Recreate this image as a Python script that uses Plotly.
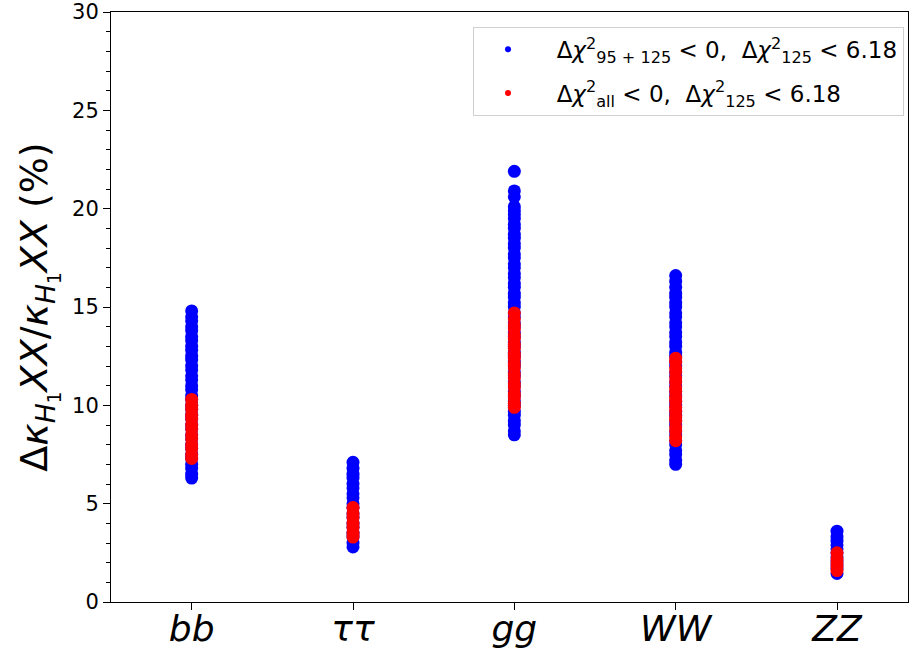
import plotly.graph_objects as go

# Channels on the x axis
channels = ["bb", "ττ", "gg", "WW", "ZZ"]
channel_labels = ["<i>bb</i>", "<i>ττ</i>", "<i>gg</i>", "<i>WW</i>", "<i>ZZ</i>"]

# Points passing Δχ²(95+125) < 0, Δχ²(125) < 6.18  (blue)
bb_blue = [6.3, 6.5, 6.8, 7.0, 7.3, 7.5, 7.8, 8.0, 8.3, 8.5, 8.8, 9.0, 9.3, 9.5,
           9.8, 10.0, 10.3, 10.5, 10.8, 11.0, 11.3, 11.5, 11.8, 12.0, 12.3, 12.5,
           12.8, 13.0, 13.3, 13.5, 13.8, 14.0, 14.3, 14.5, 14.8]
tt_blue = [2.8, 3.0, 3.3, 3.5, 3.8, 4.0, 4.3, 4.5, 4.8, 5.0, 5.3, 5.5, 5.8, 6.0,
           6.3, 6.5, 6.8, 7.1]
gg_blue = [8.5, 8.7, 9.0, 9.2, 9.5, 9.7, 10.0, 10.2, 10.5, 10.7, 11.0, 11.2, 11.5,
           11.7, 12.0, 12.2, 12.5, 12.7, 13.0, 13.2, 13.5, 13.7, 14.0, 14.2, 14.5,
           14.7, 15.0, 15.2, 15.5, 15.7, 16.0, 16.2, 16.5, 16.7, 17.0, 17.2, 17.5,
           17.7, 18.0, 18.2, 18.5, 18.7, 19.0, 19.2, 19.5, 19.7, 19.9, 20.1, 20.6,
           20.9, 21.9]
ww_blue = [7.0, 7.2, 7.5, 7.7, 8.0, 8.2, 8.5, 8.7, 9.0, 9.2, 9.5, 9.7, 10.0, 10.2,
           10.5, 10.7, 11.0, 11.2, 11.5, 11.7, 12.0, 12.2, 12.5, 12.7, 13.0, 13.2,
           13.5, 13.7, 14.0, 14.2, 14.5, 14.7, 15.0, 15.2, 15.5, 15.7, 16.0, 16.3,
           16.6]
zz_blue = [1.45, 1.7, 1.9, 2.1, 2.3, 2.5, 2.7, 2.9, 3.1, 3.3, 3.6]

# Points passing Δχ²(all) < 0, Δχ²(125) < 6.18  (red)
bb_red = [7.3, 7.5, 7.8, 8.0, 8.3, 8.5, 8.8, 9.0, 9.3, 9.5, 9.8, 10.0, 10.3]
tt_red = [3.3, 3.5, 3.8, 4.0, 4.3, 4.5, 4.8]
gg_red = [9.9, 10.1, 10.4, 10.6, 10.9, 11.1, 11.4, 11.6, 11.9, 12.1, 12.4, 12.6,
          12.9, 13.1, 13.4, 13.6, 13.9, 14.1, 14.4, 14.7]
ww_red = [8.2, 8.4, 8.7, 8.9, 9.2, 9.4, 9.7, 9.9, 10.2, 10.4, 10.7, 10.9, 11.2,
          11.4, 11.7, 11.9, 12.2, 12.4]
zz_red = [1.6, 1.8, 2.0, 2.2, 2.5]

blue_sets = [bb_blue, tt_blue, gg_blue, ww_blue, zz_blue]
red_sets = [bb_red, tt_red, gg_red, ww_red, zz_red]

PAD = "\u00a0\u00a0"
legend_blue = PAD + "Δ<i>χ</i><sup>2</sup><sub>95 + 125</sub> < 0,  Δ<i>χ</i><sup>2</sup><sub>125</sub> < 6.18"
legend_red = PAD + "Δ<i>χ</i><sup>2</sup><sub>all</sub> < 0,  Δ<i>χ</i><sup>2</sup><sub>125</sub> < 6.18"

FONT = "DejaVu Sans"
MS = 13


def flatten(sets):
    xs, ys = [], []
    for ch, vals in zip(channels, sets):
        xs += [ch] * len(vals)
        ys += vals
    return xs, ys


fig = go.Figure()
bx, by = flatten(blue_sets)
rx, ry = flatten(red_sets)
fig.add_trace(go.Scatter(x=bx, y=by, mode="markers", showlegend=False,
                         marker=dict(color="#0000ff", size=MS, line=dict(width=0))))
fig.add_trace(go.Scatter(x=rx, y=ry, mode="markers", showlegend=False,
                         marker=dict(color="#ff0000", size=MS, line=dict(width=0))))
# small legend markers
fig.add_trace(go.Scatter(x=[None], y=[None], mode="markers", name=legend_blue,
                         legendgroup="a", marker=dict(color="#0000ff", size=6)))
fig.add_trace(go.Scatter(x=[None], y=[None], mode="markers", name=legend_red,
                         legendgroup="b", marker=dict(color="#ff0000", size=6)))

fig.update_layout(
    width=909, height=651,
    margin=dict(l=111, r=1, t=12, b=49),
    paper_bgcolor="white", plot_bgcolor="white",
    font=dict(family=FONT, color="black"),
    legend=dict(x=0.995, y=0.975, xanchor="right", yanchor="top",
                bgcolor="white", bordercolor="#d0d0d0", borderwidth=1,
                font=dict(size=23, family=FONT), tracegroupgap=11,
                itemwidth=58),
    xaxis=dict(
        type="category", categoryorder="array", categoryarray=channels,
        tickmode="array", tickvals=channels, ticktext=channel_labels,
        range=[-0.5, 4.44], showgrid=False, zeroline=False, automargin=False,
        showline=True, linecolor="black", linewidth=1, mirror=True,
        ticks="outside", ticklen=7, tickcolor="black",
        tickfont=dict(size=36, family=FONT), ticklabelstandoff=-12,
    ),
    yaxis=dict(
        range=[0, 30], dtick=5, showgrid=False, zeroline=False, automargin=False,
        showline=True, linecolor="black", linewidth=1, mirror=True,
        ticks="outside", ticklen=7, tickcolor="black",
        tickfont=dict(size=21, family=FONT),
        minor=dict(dtick=1, ticks="outside", ticklen=4, tickcolor="black"),
        title=dict(
            text="Δ<i>κ</i><sub><i>H</i><sub>1</sub></sub><i>XX</i>/<i>κ</i><sub><i>H</i><sub>1</sub></sub><i>XX</i> (%)",
            font=dict(size=38, family=FONT), standoff=12,
        ),
    ),
)

fig.write_html("out.html")
